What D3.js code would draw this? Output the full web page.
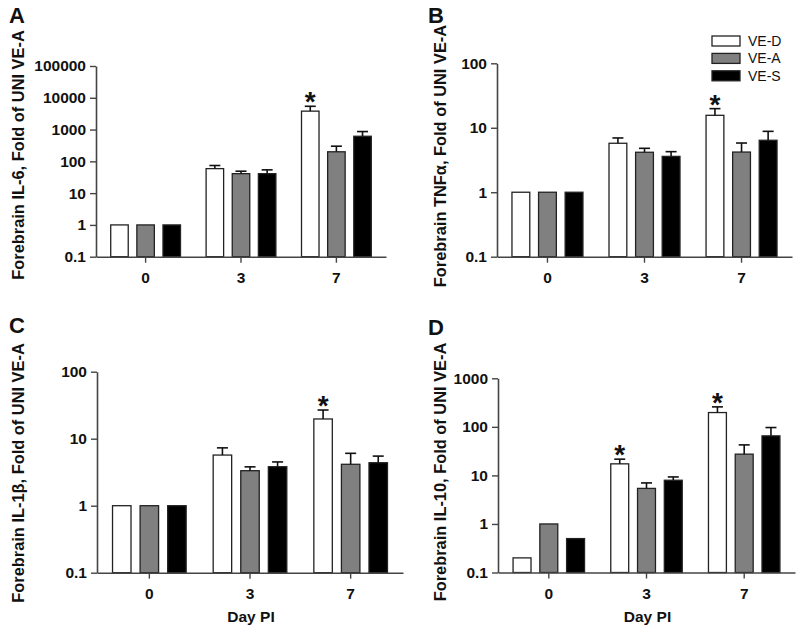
<!DOCTYPE html>
<html>
<head>
<meta charset="utf-8">
<script src="https://cdn.jsdelivr.net/npm/d3@7/dist/d3.min.js"></script>
<style>
  html, body { margin: 0; padding: 0; background: #fff; }
  svg { display: block; font-family: "Liberation Sans", Arial, Helvetica, sans-serif; }
</style>
</head>
<body>
<svg id="chart" width="800" height="630"></svg>
<script>
// ---------- DATA ----------
const days = ["0", "3", "7"];
const series = ["VE-D", "VE-A", "VE-S"];
const seriesFill = ["#ffffff", "#808080", "#000000"];

// IL-6
const il6_VED = [1, 59, 3800];
const il6_VED_errTop = [null, 74, 5400];
const il6_VEA = [1, 41, 200];
const il6_VEA_errTop = [null, 49, 300];
const il6_VES = [1, 41, 616];
const il6_VES_errTop = [null, 54, 865];
const il6_sig = [["7", "VE-D"]];
const il6_ticks = [0.1, 1, 10, 100, 1000, 10000, 100000];

// TNF-alpha
const tnf_VED = [1, 5.75, 15.6];
const tnf_VED_errTop = [null, 6.95, 19.8];
const tnf_VEA = [1, 4.17, 4.2];
const tnf_VEA_errTop = [null, 4.8, 5.8];
const tnf_VES = [1, 3.6, 6.4];
const tnf_VES_errTop = [null, 4.26, 8.8];
const tnf_sig = [["7", "VE-D"]];
const tnf_ticks = [0.1, 1, 10, 100];

// IL-1beta
const il1b_VED = [1, 5.7, 19.7];
const il1b_VED_errTop = [null, 7.3, 26.8];
const il1b_VEA = [1, 3.33, 4.15];
const il1b_VEA_errTop = [null, 3.8, 6.05];
const il1b_VES = [1, 3.82, 4.38];
const il1b_VES_errTop = [null, 4.5, 5.5];
const il1b_sig = [["7", "VE-D"]];
const il1b_ticks = [0.1, 1, 10, 100];

// IL-10
const il10_VED = [0.2, 17.3, 197];
const il10_VED_errTop = [null, 21.6, 258];
const il10_VEA = [1, 5.4, 27.4];
const il10_VEA_errTop = [null, 7, 42.5];
const il10_VES = [0.5, 7.95, 65.2];
const il10_VES_errTop = [null, 9.3, 96.8];
const il10_sig = [["3", "VE-D"], ["7", "VE-D"]];
const il10_ticks = [0.1, 1, 10, 100, 1000];

const xTitle = "Day PI";

// ---------- LAYOUT ----------
const panels = [
  { letter: "A", title: "Forebrain IL-6, Fold of UNI VE-A",
    vals: [il6_VED, il6_VEA, il6_VES], errs: [il6_VED_errTop, il6_VEA_errTop, il6_VES_errTop],
    sig: il6_sig, ticks: il6_ticks,
    xr: [96, 386], yr: [256.7, 66], lx: 9, ly: 23, tx: 24, ty: 155, xlabel: false, legend: false },
  { letter: "B", title: "Forebrain TNF\u03b1, Fold of UNI VE-A",
    vals: [tnf_VED, tnf_VEA, tnf_VES], errs: [tnf_VED_errTop, tnf_VEA_errTop, tnf_VES_errTop],
    sig: tnf_sig, ticks: tnf_ticks,
    xr: [497, 792], yr: [256.7, 63.3], lx: 428, ly: 23, tx: 446, ty: 156, xlabel: false, legend: true },
  { letter: "C", title: "Forebrain IL-1\u03b2, Fold of UNI VE-A",
    vals: [il1b_VED, il1b_VEA, il1b_VES], errs: [il1b_VED_errTop, il1b_VEA_errTop, il1b_VES_errTop],
    sig: il1b_sig, ticks: il1b_ticks,
    xr: [97, 403], yr: [572.7, 371.7], lx: 9, ly: 333, tx: 24, ty: 473, xlabel: true, legend: false },
  { letter: "D", title: "Forebrain IL-10, Fold of UNI VE-A",
    vals: [il10_VED, il10_VEA, il10_VES], errs: [il10_VED_errTop, il10_VEA_errTop, il10_VES_errTop],
    sig: il10_sig, ticks: il10_ticks,
    xr: [498, 795], yr: [572.5, 378.3], lx: 428, ly: 335, tx: 446, ty: 472, xlabel: true, legend: false }
];

const svg = d3.select("#chart");
const axisColor = "#444";
const textColor = "#111";

function fmt(v) { return v < 1 ? String(v) : d3.format("d")(v); }

panels.forEach(p => {
  const g = svg.append("g");
  const ticks = p.ticks;
  const y = d3.scaleLog().domain([ticks[0], ticks[ticks.length - 1]]).range(p.yr);
  const x0 = d3.scaleBand().domain(days).range(p.xr).paddingInner(0).paddingOuter(0.02);
  const x1 = d3.scaleBand().domain(series).range([0, x0.bandwidth()]).paddingInner(0.33).paddingOuter(0.49);
  const base = y(ticks[0]);

  // bars
  series.forEach((s, si) => {
    days.forEach((d, di) => {
      const v = p.vals[si][di];
      const bx = x0(d) + x1(s);
      g.append("rect")
        .attr("x", bx).attr("y", y(v))
        .attr("width", x1.bandwidth()).attr("height", base - y(v))
        .attr("fill", seriesFill[si])
        .attr("stroke", "#222").attr("stroke-width", 1.3);
      const e = p.errs[si][di];
      if (e != null) {
        const cx = bx + x1.bandwidth() / 2;
        g.append("line").attr("x1", cx).attr("x2", cx).attr("y1", y(v)).attr("y2", y(e))
          .attr("stroke", "#111").attr("stroke-width", 1.6);
        g.append("line").attr("x1", cx - 5.5).attr("x2", cx + 5.5).attr("y1", y(e)).attr("y2", y(e))
          .attr("stroke", "#111").attr("stroke-width", 1.6);
      }
    });
  });

  // significance asterisks
  p.sig.forEach(([d, s]) => {
    const si = series.indexOf(s), di = days.indexOf(d);
    const e = p.errs[si][di];
    const cx = x0(d) + x1(s) + x1.bandwidth() / 2;
    g.append("text").attr("x", cx).attr("y", y(e) + 5)
      .attr("text-anchor", "middle").attr("font-size", 28).attr("font-weight", "bold")
      .attr("fill", textColor).text("*");
  });

  // y axis
  const ya = g.append("g").attr("transform", `translate(${p.xr[0]},0)`)
    .call(d3.axisLeft(y).tickValues(ticks).tickFormat(fmt).tickSize(6).tickSizeOuter(0).tickPadding(4));
  ya.select(".domain").attr("stroke", axisColor).attr("stroke-width", 1.6);
  ya.selectAll(".tick line").attr("stroke", axisColor).attr("stroke-width", 1.4);
  ya.selectAll(".tick text").attr("font-size", 15.5).attr("font-weight", "bold")
    .attr("fill", textColor).attr("font-family", "Liberation Sans, Arial, sans-serif");

  // x axis
  const xa = g.append("g").attr("transform", `translate(0,${base})`)
    .call(d3.axisBottom(x0).tickSize(6).tickSizeOuter(0).tickPadding(9));
  xa.select(".domain").attr("stroke", axisColor).attr("stroke-width", 1.6);
  xa.selectAll(".tick line").attr("stroke", axisColor).attr("stroke-width", 1.4);
  xa.selectAll(".tick text").attr("font-size", 15.5).attr("font-weight", "bold")
    .attr("fill", textColor).attr("font-family", "Liberation Sans, Arial, sans-serif");

  if (p.xlabel) {
    g.append("text").attr("x", (p.xr[0] + p.xr[1]) / 2 + 1)
      .attr("y", base + 49).attr("text-anchor", "middle")
      .attr("font-size", 15.5).attr("font-weight", "bold").attr("fill", textColor).text(xTitle);
  }

  // y title
  g.append("text").attr("transform", `translate(${p.tx},${p.ty}) rotate(-90)`)
    .attr("text-anchor", "middle").attr("font-size", 16.4).attr("font-weight", "bold")
    .attr("fill", textColor).text(p.title);

  // panel letter
  g.append("text").attr("x", p.lx).attr("y", p.ly)
    .attr("font-size", 22).attr("font-weight", "bold").attr("fill", textColor).text(p.letter);

  // legend
  if (p.legend) {
    const lg = g.append("g").attr("transform", "translate(712,36)");
    series.forEach((s, si) => {
      const row = lg.append("g").attr("transform", `translate(0,${si * 17.4})`);
      row.append("rect").attr("width", 28).attr("height", 10)
        .attr("fill", seriesFill[si]).attr("stroke", "#222").attr("stroke-width", 1.3);
      row.append("text").attr("x", 36).attr("y", 10).attr("font-size", 14)
        .attr("fill", textColor).text(s);
    });
  }
});
</script>
</body>
</html>
